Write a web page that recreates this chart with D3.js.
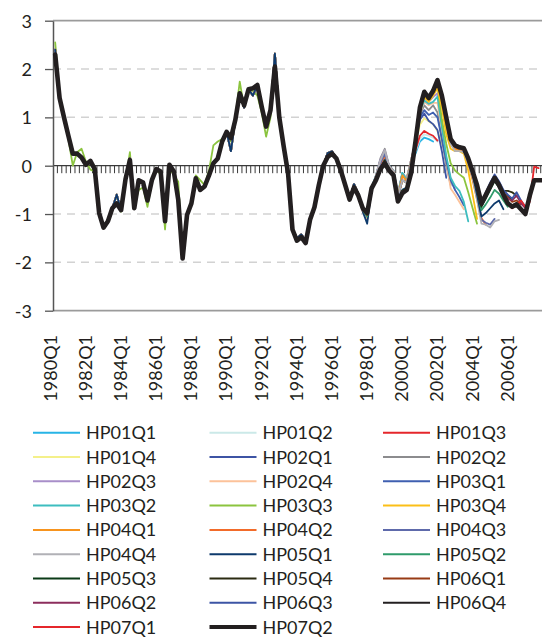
<!DOCTYPE html>
<html><head><meta charset="utf-8">
<script src="https://cdn.jsdelivr.net/npm/d3@7/dist/d3.min.js"></script>
<style>
body{margin:0;background:#fff}
svg{display:block}
text{font-family:Lato,"Open Sans",sans-serif;fill:#231f20}
</style>
</head><body>
<svg id="chart" width="542" height="641"></svg>
<script>
// ---------- categories & ticks ----------
const years = d3.range(1980, 2008);
const categories = years.flatMap(y => [1,2,3,4].map(q => y + "Q" + q));
const xTickLabels = ["1980Q1","1982Q1","1984Q1","1986Q1","1988Q1","1990Q1","1992Q1","1994Q1","1996Q1","1998Q1","2000Q1","2002Q1","2004Q1","2006Q1"];
const yTicks = [-3,-2,-1,0,1,2,3];
const gridValues = [-2,-1,1,2];

const seriesNames = ["HP01Q1","HP01Q2","HP01Q3","HP01Q4","HP02Q1","HP02Q2","HP02Q3","HP02Q4","HP03Q1","HP03Q2","HP03Q3","HP03Q4","HP04Q1","HP04Q2","HP04Q3","HP04Q4","HP05Q1","HP05Q2","HP05Q3","HP05Q4","HP06Q1","HP06Q2","HP06Q3","HP06Q4","HP07Q1","HP07Q2"];

// ---------- history 1980Q1-1997Q2 ----------
const histFinal = [2.3,1.4,1.0,0.62,0.25,0.25,0.17,0.02,0.1,-0.07,
 -0.98,-1.28,-1.15,-0.88,-0.78,-0.92,-0.28,0.12,-0.88,-0.3,
 -0.35,-0.72,-0.3,-0.07,-0.12,-1.15,0.02,-0.12,-0.7,-1.92,
 -1.02,-0.78,-0.26,-0.5,-0.43,-0.2,0.05,0.15,0.5,0.7,
 0.57,0.95,1.5,1.25,1.58,1.6,1.67,1.22,0.81,1.15,
 2.05,1.0,0.4,-0.16,-1.32,-1.55,-1.48,-1.6,-1.12,-0.86,
 -0.4,0.0,0.18,0.25,0.15,-0.1,-0.4,-0.7,-0.45,-0.62];
const histOld = [2.4,1.4,1.0,0.62,0.25,0.25,0.17,0.02,0.1,-0.07,
 -0.98,-1.28,-1.15,-0.88,-0.6,-0.92,-0.28,0.15,-0.88,-0.3,
 -0.35,-0.72,-0.3,-0.07,-0.12,-1.15,0.02,-0.12,-0.7,-1.92,
 -1.02,-0.78,-0.26,-0.5,-0.43,-0.2,0.05,0.15,0.5,0.7,
 0.3,0.95,1.5,1.2,1.58,1.45,1.67,1.22,0.81,1.15,
 2.32,1.05,0.4,-0.16,-1.32,-1.5,-1.42,-1.55,-1.12,-0.86,
 -0.4,0.0,0.26,0.3,0.15,-0.1,-0.4,-0.7,-0.38,-0.58];
const histGreen = [2.55,1.45,1.05,0.55,0.0,0.28,0.35,0.08,-0.08,-0.12,
 -0.95,-1.3,-1.1,-0.88,-0.62,-0.95,-0.35,0.28,-0.85,-0.5,
 -0.45,-0.85,-0.35,-0.05,-0.2,-1.32,-0.05,-0.19,-0.33,-1.9,
 -1.0,-0.75,-0.2,-0.3,-0.4,-0.1,0.42,0.5,0.55,0.7,
 0.5,1.0,1.74,1.2,1.55,1.55,1.45,1.1,0.6,1.0,
 2.2,0.95,0.4,-0.15,-1.3,-1.55,-1.45,-1.6,-1.1,-0.85,
 -0.4,0.0,0.2,0.25,0.15,-0.1,-0.4,-0.72,-0.45,-0.65];

// ---------- each vintage from 1997Q3 on ----------
const tailStart = "1997Q3";
const hp01q1 = [-0.9,-1.08,-0.45,-0.2,0.12,0.28,0.0,-0.1,-0.58,-0.15,-0.28,0.05, 0.25,0.5,0.58,0.55,0.5];
const hp01q2 = [-0.92,-1.1,-0.5,-0.22,0.08,0.25,-0.02,-0.12,-0.6,-0.18,-0.28,0.08, 0.3,0.55,0.65,0.62,0.58,0.5];
const hp01q3 = [-0.95,-1.12,-0.5,-0.22,0.06,0.24,-0.02,-0.12,-0.62,-0.2,-0.3,0.1, 0.32,0.62,0.72,0.66,0.62,0.52];
const hp01q4 = [-0.92,-1.1,-0.5,-0.22,0.08,0.25,-0.02,-0.12,-0.6,-0.18,-0.28,0.12, 0.45,0.85,0.98,0.92,0.86,0.72,0.45];
const hp02q1 = [-0.92,-1.1,-0.5,-0.22,0.1,0.28,-0.02,-0.12,-0.6,-0.18,-0.28,0.12, 0.48,0.95,1.08,0.93,0.86,0.74,0.3,-0.25];
const hp02q2 = [-0.9,-1.08,-0.48,-0.2,0.15,0.35,0.0,-0.1,-0.58,-0.16,-0.26,0.12, 0.5,1.05,1.25,1.15,1.25,1.1,0.55,0.0,-0.4];
const hp02q3 = [-0.92,-1.1,-0.5,-0.22,0.12,0.32,-0.02,-0.12,-0.6,-0.18,-0.28,0.12, 0.5,1.1,1.42,1.32,1.42,1.5,0.8,0.15,-0.28,-0.5];
const hp02q4 = [-0.92,-1.1,-0.5,-0.22,0.08,0.25,-0.02,-0.12,-0.6,-0.18,-0.28,0.12, 0.5,1.1,1.32,1.25,1.3,1.3,0.75,0.1,-0.47,-0.6,-0.75,-0.9];
const hp03q1 = [-0.9,-1.05,-0.48,-0.25,0.03,0.2,-0.05,-0.15,-0.65,-0.3,-0.35,0.08, 0.5,1.0,1.15,1.05,1.1,1.0,0.55,0.1,-0.3,-0.5,-0.65,-0.82];
const hp03q2 = [-0.9,-1.05,-0.48,-0.25,0.03,0.2,-0.05,-0.15,-0.65,-0.15,-0.3,0.08, 0.5,1.12,1.35,1.28,1.32,1.43,0.8,0.2,-0.25,-0.42,-0.52,-0.75,-1.15];
const hp03q3 = [-0.9,-1.05,-0.48,-0.25,0.03,0.2,-0.05,-0.15,-0.65,-0.3,-0.35,0.05, 0.5,1.15,1.45,1.35,1.48,1.68,0.95,0.45,0.05,-0.1,-0.18,-0.25,-0.55,-0.88,-1.2];
const hp03q4 = [-0.9,-1.05,-0.48,-0.25,0.03,0.2,-0.05,-0.15,-0.65,-0.3,-0.35,0.05, 0.5,1.15,1.42,1.32,1.45,1.6,1.2,0.65,0.35,0.3,0.3,0.25,-0.1,-0.6,-1.1];
const hp04q1 = [-0.9,-1.05,-0.48,-0.25,0.03,0.2,-0.05,-0.15,-0.65,-0.2,-0.32,0.05, 0.5,1.18,1.48,1.37,1.5,1.7,1.35,0.85,0.45,0.35,0.33,0.3,0.05,-0.3,-0.7,-1.12];
const hp04q2 = [-0.9,-1.05,-0.48,-0.25,0.03,0.2,-0.05,-0.15,-0.65,-0.3,-0.35,0.05, 0.5,1.18,1.5,1.38,1.5,1.72,1.38,0.88,0.48,0.38,0.35,0.32,0.08,-0.25,-0.65,-1.08,-1.22];
const hp04q3 = [-0.9,-1.05,-0.48,-0.25,0.05,0.25,-0.05,-0.15,-0.65,-0.3,-0.35,0.05, 0.5,1.18,1.5,1.38,1.52,1.72,1.4,0.9,0.5,0.4,0.36,0.32,0.1,-0.2,-0.6,-1.12,-1.18,-1.22,-1.1];
const hp04q4 = [-0.9,-1.05,-0.48,-0.22,0.1,0.32,-0.02,-0.12,-0.62,-0.3,-0.35,0.05, 0.5,1.18,1.5,1.38,1.52,1.74,1.4,0.9,0.45,0.3,0.3,0.28,0.05,-0.25,-0.7,-1.2,-1.22,-1.28,-1.15,-1.12];
const hp05q1 = [-0.95,-1.2,-0.5,-0.3,-0.05,0.12,-0.08,-0.18,-0.7,-0.5,-0.45,-0.05, 0.5,1.2,1.52,1.4,1.55,1.75,1.42,0.95,0.52,0.42,0.38,0.35,0.12,-0.18,-0.6,-1.05,-0.98,-0.88,-0.78,-0.72,-0.9];
const hp05q2 = [-0.92,-1.05,-0.48,-0.3,-0.06,0.1,-0.08,-0.18,-0.72,-0.52,-0.48,-0.1, 0.5,1.2,1.52,1.4,1.55,1.76,1.43,0.97,0.53,0.42,0.38,0.35,0.13,-0.15,-0.5,-0.92,-0.8,-0.66,-0.5,-0.58,-0.72,-0.85];
const hp05q3 = [-0.9,-1.0,-0.48,-0.3,-0.06,0.1,-0.08,-0.18,-0.72,-0.52,-0.48,-0.1, 0.5,1.2,1.52,1.4,1.55,1.76,1.44,0.98,0.54,0.42,0.38,0.36,0.14,-0.13,-0.45,-0.85,-0.68,-0.5,-0.32,-0.45,-0.58,-0.62,-0.72];
const hp05q4 = [-0.9,-1.0,-0.48,-0.3,-0.06,0.1,-0.08,-0.18,-0.72,-0.52,-0.48,-0.1, 0.5,1.2,1.53,1.42,1.56,1.77,1.44,0.98,0.54,0.42,0.38,0.36,0.14,-0.12,-0.42,-0.82,-0.64,-0.45,-0.25,-0.38,-0.52,-0.52,-0.55,-0.62];
const hp06q1 = [-0.92,-1.02,-0.48,-0.3,-0.06,0.08,-0.08,-0.18,-0.72,-0.54,-0.5,-0.12, 0.5,1.2,1.53,1.42,1.56,1.77,1.45,0.99,0.55,0.42,0.38,0.36,0.15,-0.12,-0.42,-0.8,-0.62,-0.44,-0.22,-0.38,-0.55,-0.65,-0.75,-0.72,-0.8];
const hp06q2 = [-0.9,-1.0,-0.48,-0.3,-0.06,0.08,-0.08,-0.18,-0.72,-0.54,-0.5,-0.12, 0.5,1.2,1.48,1.44,1.5,1.74,1.45,0.99,0.55,0.42,0.38,0.36,0.15,-0.12,-0.4,-0.78,-0.6,-0.42,-0.24,-0.4,-0.58,-0.68,-0.72,-0.62,-0.78,-0.88];
const hp06q3 = [-0.9,-1.0,-0.48,-0.3,-0.06,0.06,-0.08,-0.18,-0.72,-0.55,-0.5,-0.14, 0.5,1.2,1.53,1.4,1.55,1.77,1.45,1.0,0.55,0.42,0.38,0.36,0.15,-0.12,-0.4,-0.78,-0.55,-0.35,-0.18,-0.32,-0.5,-0.6,-0.68,-0.55,-0.72,-0.85,-0.72];
const hp06q4 = [-0.88,-0.98,-0.47,-0.3,-0.07,0.05,-0.1,-0.2,-0.74,-0.57,-0.5,-0.15, 0.5,1.2,1.53,1.4,1.55,1.77,1.45,1.0,0.55,0.42,0.38,0.36,0.15,-0.12,-0.4,-0.78,-0.6,-0.42,-0.25,-0.4,-0.6,-0.76,-0.82,-0.78,-0.88,-0.95,-0.6,-0.35];
const hp07q1 = [-0.9,-1.0,-0.48,-0.28,-0.05,0.08,-0.08,-0.18,-0.72,-0.55,-0.48,-0.12, 0.5,1.18,1.5,1.38,1.52,1.74,1.44,1.0,0.55,0.4,0.37,0.34,0.13,-0.14,-0.42,-0.8,-0.62,-0.45,-0.28,-0.42,-0.62,-0.8,-0.88,-0.82,-0.72,-0.85,-0.75,-0.02,-0.05];
const hp07q2 = [-0.88,-0.98,-0.47,-0.3,-0.07,0.05,-0.1,-0.2,-0.74,-0.57,-0.5,-0.15, 0.5,1.2,1.53,1.4,1.55,1.77,1.45,1.0,0.55,0.42,0.38,0.36,0.15,-0.12,-0.4,-0.78,-0.6,-0.42,-0.25,-0.4,-0.6,-0.78,-0.85,-0.8,-0.9,-1.0,-0.62,-0.3,-0.3,-0.3];

const seriesTails = [hp01q1,hp01q2,hp01q3,hp01q4,hp02q1,hp02q2,hp02q3,hp02q4,hp03q1,hp03q2,hp03q3,hp03q4,hp04q1,hp04q2,hp04q3,hp04q4,hp05q1,hp05q2,hp05q3,hp05q4,hp06q1,hp06q2,hp06q3,hp06q4,hp07q1,hp07q2];
const seriesHist = [histOld,histOld,histOld,histOld,histOld,histOld,histOld,histOld,histOld,histOld,histGreen,histOld,histOld,histOld,histOld,histOld,histOld,histFinal,histFinal,histFinal,histFinal,histFinal,histFinal,histFinal,histFinal,histFinal];

// ---------- styles ----------
const seriesColors = ["#27b4e6","#cbe9e8","#e5262b","#f4f08a","#3d54a4","#8c8c8e","#a88ec9","#fcc29a","#3f5fb0","#3dbdbf","#8bc43f","#fbbf18","#f7941e","#f26b2a","#5e6aab","#b1b1b6","#0e3a6c","#2f9b6b","#0b3b17","#2b2b12","#983b15","#8c2e5d","#3c55a5","#231f20","#e5262b","#231f20"];

const table = seriesNames.map((name, k) => ({
  name, color: seriesColors[k], thick: name === "HP07Q2",
  values: seriesHist[k].concat(seriesTails[k])
}));

// ---------- layout ----------
const W = 542, H = 641;
const plotLeft = 53, plotTop = 20.7, plotBottom = 310.7, band = 4.394;
const svg = d3.select("#chart");

const x = d3.scaleBand().domain(categories).range([plotLeft, plotLeft + categories.length * band]).padding(0);
const bw = x.bandwidth();
const y = d3.scaleLinear().domain([-3, 3]).range([plotBottom, plotTop]);
const xc = c => x(c) + bw / 2;

// gridlines
svg.append("g").selectAll("line").data(gridValues).join("line")
  .attr("x1", plotLeft).attr("x2", W).attr("y1", d => y(d)).attr("y2", d => y(d))
  .attr("stroke", "#d2d2d2").attr("stroke-width", 1.5).attr("stroke-dasharray", "8,6");

// top and bottom border
svg.append("g").selectAll("line").data([3, -3]).join("line")
  .attr("x1", plotLeft).attr("x2", W).attr("y1", d => y(d)).attr("y2", d => y(d))
  .attr("stroke", "#9b9b9b").attr("stroke-width", 1.7);

// zero line with category ticks
const zg = svg.append("g");
zg.append("line").attr("x1", plotLeft).attr("x2", W).attr("y1", y(0)).attr("y2", y(0))
  .attr("stroke", "#3a3a3a").attr("stroke-width", 1.3);
zg.selectAll("line.t").data(categories.slice(1).filter(c => x(c) <= W)).join("line")
  .attr("class", "t")
  .attr("x1", d => x(d)).attr("x2", d => x(d))
  .attr("y1", y(0)).attr("y2", y(0) + 7.5)
  .attr("stroke", "#3a3a3a").attr("stroke-width", 1);

// y axis
const ya = svg.append("g").attr("transform", `translate(${plotLeft},0)`)
  .call(d3.axisLeft(y).tickValues(yTicks).tickSize(8).tickSizeOuter(0).tickPadding(13).tickFormat(d => String(d)));
ya.select(".domain").attr("stroke", "#555").attr("stroke-width", 1.5);
ya.selectAll(".tick line").attr("stroke", "#555").attr("stroke-width", 1.3);
ya.selectAll(".tick text").attr("font-size", 18).attr("font-family", "Lato,'Open Sans',sans-serif").attr("fill", "#231f20").attr("dy", "0.36em");

// x labels
svg.append("g").selectAll("text").data(xTickLabels).join("text")
  .attr("transform", d => `translate(${xc(d) + 1.5},335) rotate(-90)`)
  .attr("text-anchor", "end").attr("font-size", 18).text(d => d);

// lines
const line = d3.line().x((d, i) => xc(categories[i])).y(d => y(d));
svg.append("g").selectAll("path").data(table).join("path")
  .attr("d", d => line(d.values))
  .attr("fill", "none")
  .attr("stroke", d => d.color)
  .attr("stroke-width", d => d.thick ? 4.6 : 1.8)
  .attr("stroke-linejoin", "round").attr("stroke-linecap", "round");

// legend
const colX = [33, 209.5, 383], rowY0 = 432.7, rowH = 24.3, lineLen = 47;
const lg = svg.append("g").selectAll("g").data(table).join("g")
  .attr("transform", (d, i) => `translate(${colX[i % 3]},${rowY0 + Math.floor(i / 3) * rowH})`);
lg.append("line").attr("x1", 0).attr("x2", lineLen).attr("y1", 0).attr("y2", 0)
  .attr("stroke", d => d.color).attr("stroke-width", d => d.thick ? 4 : 2);
lg.append("text").attr("x", lineLen + 6).attr("y", 6.5).attr("font-size", 18).text(d => d.name);
</script>
</body></html>
